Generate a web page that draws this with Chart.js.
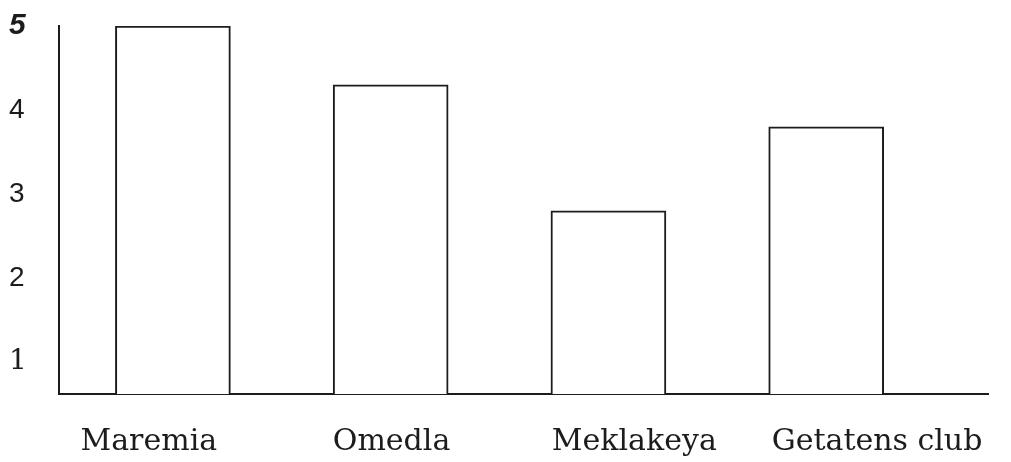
<!DOCTYPE html>
<html>
<head>
  <meta charset="utf-8" />
  <title>Bar chart</title>
  <script src="https://cdn.jsdelivr.net/npm/chart.js"></script>
  <style>
    html, body {
      margin: 0;
      padding: 0;
      background: #fff;
    }
    .wrap {
      width: 1011px;
      height: 462px;
    }
  </style>
</head>
<body>
  <div class="wrap">
    <canvas id="chart" width="1011" height="462"></canvas>
  </div>

  <script>
    // data
    const categories = ['Maremia', 'Omedla', 'Meklakeya', 'Getatens club'];
    const values = [5.0, 4.3, 2.8, 3.8];
    const yTicks = [1, 2, 3, 4, 5];

    const ink = '#1c1c1c';

    // bars sit on the index of their category
    const barData = values.map((v, i) => ({ x: i, y: v }));

    // labels may run past the plot edges, don't let them shrink it
    const noOverflow = (scale) => {
      scale.paddingLeft = 0;
      scale.paddingRight = 0;
      scale.paddingTop = 0;
      scale.paddingBottom = 0;
    };

    new Chart(document.getElementById('chart').getContext('2d'), {
      type: 'bar',
      data: {
        datasets: [{
          data: barData,
          backgroundColor: '#ffffff',
          borderColor: ink,
          borderWidth: 2,
          borderSkipped: false,
          barThickness: 115
        }]
      },
      options: {
        responsive: false,
        animation: false,
        layout: {
          padding: { top: 26, right: 23, bottom: 2, left: 9 }
        },
        plugins: {
          legend: { display: false },
          tooltip: { enabled: false }
        },
        scales: {
          // axis the bars are drawn on (only its line is shown)
          x: {
            type: 'linear',
            position: 'bottom',
            weight: 0,
            offset: false,
            min: -0.523,
            max: 3.743,
            grid: { display: false, drawTicks: false, offset: false },
            border: { display: true, color: ink, width: 2 },
            ticks: { display: false },
            afterFit: noOverflow
          },
          // category names below, placed a bit off the bars like the original
          xl: {
            type: 'linear',
            position: 'bottom',
            weight: 1,
            offset: false,
            min: -0.37,
            max: 3.457,
            grid: { display: false, drawTicks: false, offset: false },
            border: { display: false },
            afterBuildTicks: (scale) => {
              scale.ticks = categories.map((c, i) => ({ value: i }));
            },
            afterFit: (scale) => {
              noOverflow(scale);
              scale.height = 66;
            },
            ticks: {
              padding: 30,
              maxRotation: 0,
              autoSkip: false,
              color: ink,
              font: { family: 'DejaVu Serif', size: 30 },
              callback: (v) => categories[v]
            }
          },
          y: {
            min: 0.62,
            max: 5,
            grid: { display: false, drawTicks: false },
            border: { display: true, color: ink, width: 2 },
            afterBuildTicks: (scale) => {
              scale.ticks = yTicks.map(v => ({ value: v }));
            },
            afterFit: (scale) => {
              noOverflow(scale);
              scale.width = 50;
            },
            ticks: {
              padding: 16,
              crossAlign: 'far',
              color: ink,
              font: (ctx) => {
                const v = ctx.tick ? ctx.tick.value : 0;
                if (v === 5) return { family: 'Liberation Sans', size: 30, weight: 'bold', style: 'italic' };
                if (v === 1) return { family: 'DejaVu Serif', size: 28 };
                return { family: 'Liberation Sans', size: 28 };
              }
            }
          }
        }
      }
    });
  </script>
</body>
</html>
